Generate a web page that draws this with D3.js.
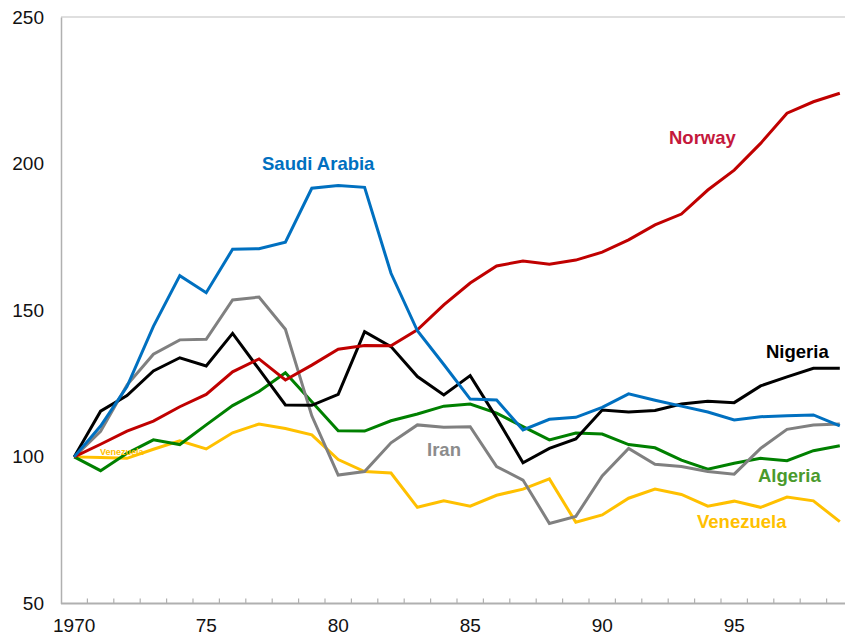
<!DOCTYPE html>
<html>
<head>
<meta charset="utf-8">
<script src="https://cdn.jsdelivr.net/npm/d3@7"></script>
<style>
  html, body { margin: 0; padding: 0; background: #fff; }
  svg { display: block; font-family: Arial, "Liberation Sans", sans-serif; }
</style>
</head>
<body>
<svg id="chart" width="845" height="637"></svg>
<script>
const years = d3.range(1970, 2000);
const xTickLabels = {1970: "1970", 1975: "75", 1980: "80", 1985: "85", 1990: "90", 1995: "95"};
const yTicks = [50, 100, 150, 200, 250];

const saudiArabia = [100, 110.5, 124, 144.5, 161.8, 156, 170.8, 171, 173.2, 191.6, 192.5, 191.9, 162.6, 143, 131.5, 119.7, 119.4, 109.2, 112.8, 113.5, 116.9, 121.5, 119.3, 117.3, 115.3, 112.6, 113.7, 114, 114.3, 110.6];
const norway      = [100, 104.3, 108.8, 112.2, 117.1, 121.3, 129, 133.4, 126.2, 131.3, 136.7, 138, 137.9, 143.3, 151.8, 159.3, 165.1, 166.8, 165.7, 167.1, 169.8, 174, 179.1, 182.8, 191, 197.8, 206.9, 217.2, 221.1, 224];
const nigeria     = [100, 115.6, 120.9, 129.3, 133.8, 131, 142.1, 129.9, 117.7, 117.6, 121.3, 142.7, 137.6, 127.4, 121.1, 127.7, 113.3, 98, 102.9, 106.1, 116, 115.3, 115.8, 118, 119, 118.5, 124.2, 127.3, 130.2, 130.2];
const iran        = [100, 108.7, 124.5, 135, 139.9, 140.1, 153.5, 154.5, 143.5, 114, 93.8, 95, 104.8, 110.9, 110.1, 110.3, 96.7, 92.1, 77.3, 79.7, 93.5, 102.9, 97.5, 96.7, 95, 94.1, 102.9, 109.4, 110.9, 111.2];
const algeria     = [100, 95.3, 101.2, 105.8, 104.2, 110.9, 117.5, 122.3, 128.7, 118.8, 108.9, 108.8, 112.3, 114.6, 117.3, 118, 114.9, 110.3, 105.8, 108.1, 107.8, 104.2, 103.1, 98.9, 95.8, 97.8, 99.5, 98.7, 102.1, 103.8];
const venezuela   = [100, 99.8, 99.5, 102.6, 105.5, 102.7, 108.2, 111.2, 109.7, 107.5, 99.1, 95, 94.5, 82.8, 85, 83.2, 86.9, 89, 92.5, 77.7, 80.2, 85.9, 89, 87.2, 83.2, 84.9, 82.8, 86.3, 85, 77.9];

const seriesNames  = ["Venezuela", "Algeria", "Iran", "Nigeria", "Norway", "Saudi Arabia"];
const seriesValues = [venezuela, algeria, iran, nigeria, norway, saudiArabia];
const lineColors   = ["#FFC000", "#008000", "#808080", "#000000", "#C00000", "#0070C0"];
const labelColors  = ["#FFC000", "#4A9A2C", "#8C8C8C", "#000000", "#C4183C", "#0070C0"];
const labelPos     = [[697, 528], [758, 482], [427, 456], [766, 358], [669, 144], [262, 170]];

const svg = d3.select("#chart");
const mLeft = 61, mRight = 853, mTop = 17, mBottom = 603.5;

const x = d3.scaleBand().domain(years).range([mLeft, mRight]);
const y = d3.scaleLinear().domain([50, 250]).range([mBottom, mTop]);
const cx = d => x(d) + x.bandwidth() / 2;

// frame top line
svg.append("line").attr("x1", mLeft).attr("x2", 845).attr("y1", mTop).attr("y2", mTop)
  .attr("stroke", "#BFBFBF").attr("stroke-width", 1.2);

// y axis
const yAxis = svg.append("g").attr("transform", `translate(${mLeft},0)`)
  .call(d3.axisLeft(y).tickValues(yTicks).tickSize(0).tickPadding(17).tickFormat(d3.format("d")));
yAxis.select(".domain").attr("stroke", "#B0B0B0").attr("stroke-width", 1.5);
yAxis.selectAll("text").attr("font-size", 19).attr("fill", "#111");

// x axis: ticks at category boundaries, inward
const boundaries = years.slice(1).map(d => x(d));
const gx = svg.append("g");
gx.append("line").attr("x1", mLeft).attr("x2", 845).attr("y1", mBottom).attr("y2", mBottom)
  .attr("stroke", "#B0B0B0").attr("stroke-width", 2);
gx.selectAll("line.tk").data(boundaries).join("line").attr("class", "tk")
  .attr("x1", d => d).attr("x2", d => d).attr("y1", mBottom - 5).attr("y2", mBottom)
  .attr("stroke", "#B0B0B0").attr("stroke-width", 1.2);
gx.selectAll("text").data(years.filter(d => xTickLabels[d])).join("text")
  .attr("x", d => cx(d)).attr("y", 632).attr("text-anchor", "middle")
  .attr("font-size", 19).attr("fill", "#111").text(d => xTickLabels[d]);

// lines
const line = d3.line().x((d, i) => cx(years[i])).y(d => y(d));
seriesValues.forEach((vals, k) => {
  svg.append("path").datum(vals).attr("d", line)
    .attr("fill", "none").attr("stroke", lineColors[k]).attr("stroke-width", 3)
    .attr("stroke-linejoin", "miter");
});

// small label near origin
svg.append("text").attr("x", 100).attr("y", 455).attr("font-size", 9).attr("font-weight", "bold")
  .attr("fill", "#FFC000").text("Venezuela");

// series labels
seriesNames.forEach((n, k) => {
  svg.append("text").attr("x", labelPos[k][0]).attr("y", labelPos[k][1])
    .attr("font-size", 18.5).attr("font-weight", "bold").attr("fill", labelColors[k]).text(n);
});
</script>
</body>
</html>
